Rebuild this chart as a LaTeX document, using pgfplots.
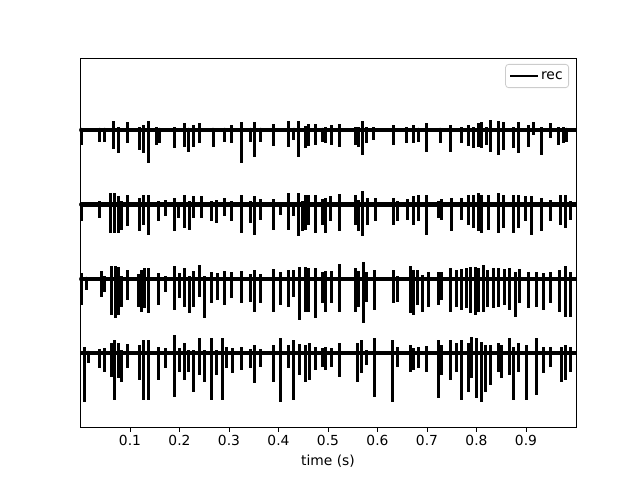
\documentclass[border=0pt]{standalone}
\usepackage{fontspec}
\setmainfont{DejaVu Sans}
\usepackage{pgfplots}
\usepackage{pgfplotstable}
\pgfplotsset{compat=1.18}
% columns: t (s), baseline, up, down
\pgfplotstableread{
t b up down
0.0016 0 2 15
0.0388 0 1 12
0.0489 0 1 12
0.0657 0 9 19
0.0758 0 3 23
0.0945 0 8 13
0.1196 0 3 20
0.1263 0 5 23
0.1364 0 9 33
0.1531 0 3 15
0.1600 0 2 13
0.1903 0 3 18
0.2091 0 7 17
0.2186 0 2 22
0.2273 0 5 17
0.2408 0 7 13
0.2677 0 2 17
0.2913 0 2 12
0.3046 0 5 13
0.3248 0 8 33
0.3438 0 2 12
0.3525 0 8 27
0.3640 0 2 12
0.3895 0 6 16
0.4212 0 9 17
0.4313 0 2 10
0.4414 0 9 27
0.4549 0 4 18
0.4616 0 6 16
0.4752 0 6 15
0.4885 0 2 12
0.4954 0 3 13
0.5067 0 5 15
0.5242 0 6 17
0.5560 0 3 15
0.5626 0 3 17
0.5693 0 9 25
0.5782 0 3 13
0.5929 0 3 10
0.6333 0 5 15
0.6590 0 3 13
0.6723 0 5 13
0.6824 0 2 12
0.6994 0 7 22
0.7263 0 2 13
0.7465 0 5 22
0.7701 0 3 13
0.7834 0 5 16
0.7935 0 3 18
0.8036 0 7 17
0.8105 0 8 18
0.8206 0 3 15
0.8273 0 10 22
0.8440 0 9 25
0.8541 0 8 20
0.8743 0 3 18
0.8844 0 8 23
0.9046 0 5 17
0.9147 0 8 5
0.9317 0 3 25
0.9485 0 7 8
0.9653 0 3 15
0.9754 0 3 13
0.9822 0 2 12
}\chA
\pgfplotstableread{
t b up down
0.0016 -74.5 2 17
0.0388 -74.5 3 14
0.0616 -74.5 11 29
0.0697 -74.5 11 29
0.0758 -74.5 8 29
0.0824 -74.5 3 26
0.0945 -74.5 9 22
0.1196 -74.5 6 27
0.1263 -74.5 9 21
0.1364 -74.5 9 31
0.1566 -74.5 3 17
0.1713 -74.5 4 12
0.1903 -74.5 6 27
0.1970 -74.5 2 14
0.2091 -74.5 9 24
0.2206 -74.5 3 26
0.2273 -74.5 8 14
0.2440 -74.5 8 14
0.2642 -74.5 3 17
0.2743 -74.5 4 19
0.2913 -74.5 6 12
0.3046 -74.5 3 17
0.3248 -74.5 9 29
0.3438 -74.5 3 19
0.3525 -74.5 8 31
0.3640 -74.5 5 16
0.3895 -74.5 5 26
0.4044 -74.5 2 11
0.4212 -74.5 11 26
0.4313 -74.5 2 12
0.4414 -74.5 11 32
0.4481 -74.5 3 27
0.4549 -74.5 9 26
0.4616 -74.5 9 21
0.4752 -74.5 9 29
0.4885 -74.5 5 21
0.4954 -74.5 6 29
0.5055 -74.5 8 17
0.5242 -74.5 10 27
0.5560 -74.5 9 21
0.5626 -74.5 4 27
0.5693 -74.5 13 32
0.5794 -74.5 6 21
0.5964 -74.5 6 17
0.6333 -74.5 6 21
0.6400 -74.5 3 17
0.6602 -74.5 5 16
0.6723 -74.5 8 21
0.6824 -74.5 9 17
0.6994 -74.5 9 31
0.7228 -74.5 3 14
0.7297 -74.5 5 16
0.7499 -74.5 6 27
0.7701 -74.5 6 16
0.7834 -74.5 9 21
0.7935 -74.5 9 24
0.8036 -74.5 11 27
0.8105 -74.5 9 29
0.8238 -74.5 9 26
0.8440 -74.5 11 29
0.8541 -74.5 9 24
0.8743 -74.5 9 29
0.8844 -74.5 9 24
0.8980 -74.5 8 17
0.9115 -74.5 8 31
0.9317 -74.5 6 27
0.9485 -74.5 4 17
0.9687 -74.5 9 21
0.9788 -74.5 9 24
0.9889 -74.5 3 16
}\chB
\pgfplotstableread{
t b up down
0.0016 -149 6 26
0.0117 -149 2 11
0.0420 -149 8 18
0.0489 -149 3 13
0.0622 -149 13 36
0.0703 -149 13 39
0.0758 -149 12 36
0.0824 -149 3 28
0.0945 -149 9 21
0.1162 -149 5 28
0.1228 -149 9 33
0.1297 -149 11 29
0.1378 -149 11 34
0.1566 -149 6 26
0.1713 -149 3 13
0.1903 -149 13 31
0.1990 -149 6 19
0.2091 -149 11 28
0.2206 -149 3 34
0.2273 -149 8 28
0.2408 -149 14 18
0.2495 -149 3 39
0.2642 -149 7 24
0.2764 -149 6 21
0.2913 -149 8 26
0.3046 -149 7 19
0.3248 -149 8 24
0.3438 -149 5 23
0.3525 -149 9 33
0.3640 -149 5 24
0.3895 -149 10 33
0.4044 -149 7 26
0.4212 -149 9 28
0.4313 -149 9 18
0.4434 -149 12 41
0.4549 -149 12 33
0.4616 -149 11 33
0.4752 -149 11 39
0.4885 -149 7 24
0.4954 -149 8 33
0.5067 -149 8 24
0.5242 -149 15 33
0.5560 -149 11 33
0.5626 -149 8 28
0.5707 -149 17 44
0.5782 -149 7 23
0.5949 -149 9 31
0.6333 -149 9 24
0.6414 -149 3 23
0.6671 -149 13 34
0.6723 -149 9 36
0.6804 -149 9 26
0.6913 -149 4 33
0.7026 -149 7 28
0.7228 -149 7 26
0.7297 -149 7 21
0.7465 -149 11 33
0.7600 -149 9 28
0.7701 -149 10 31
0.7802 -149 11 29
0.7869 -149 12 34
0.7970 -149 12 36
0.8036 -149 11 33
0.8137 -149 14 33
0.8218 -149 9 28
0.8339 -149 11 29
0.8440 -149 11 28
0.8556 -149 10 26
0.8657 -149 11 31
0.8778 -149 7 38
0.8865 -149 10 24
0.9046 -149 7 29
0.9216 -149 7 28
0.9350 -149 6 31
0.9485 -149 7 24
0.9673 -149 9 33
0.9788 -149 13 38
0.9889 -149 7 38
}\chC
\pgfplotstableread{
t b up down
0.0085 -223 6 49
0.0152 -223 2 10
0.0388 -223 4 15
0.0489 -223 5 19
0.0622 -223 10 24
0.0691 -223 13 47
0.0758 -223 10 25
0.0824 -223 3 29
0.0945 -223 9 15
0.1196 -223 8 27
0.1277 -223 13 47
0.1378 -223 13 47
0.1566 -223 6 27
0.1713 -223 5 15
0.1903 -223 18 44
0.2004 -223 5 19
0.2091 -223 10 27
0.2172 -223 3 19
0.2273 -223 3 39
0.2408 -223 15 22
0.2495 -223 3 29
0.2642 -223 15 47
0.2743 -223 3 22
0.2859 -223 15 47
0.2945 -223 6 15
0.3061 -223 5 20
0.3248 -223 6 17
0.3438 -223 4 15
0.3525 -223 8 30
0.3640 -223 4 14
0.3895 -223 8 29
0.4044 -223 15 49
0.4212 -223 8 15
0.4313 -223 13 47
0.4434 -223 9 22
0.4549 -223 8 29
0.4630 -223 10 27
0.4752 -223 6 17
0.4885 -223 5 14
0.4954 -223 6 17
0.5067 -223 5 14
0.5242 -223 10 24
0.5592 -223 10 29
0.5673 -223 13 20
0.5782 -223 3 12
0.5949 -223 15 44
0.6313 -223 13 49
0.6400 -223 6 14
0.6671 -223 8 19
0.6723 -223 5 17
0.6824 -223 6 15
0.6994 -223 7 19
0.7228 -223 13 45
0.7297 -223 8 22
0.7465 -223 13 27
0.7600 -223 10 19
0.7701 -223 13 47
0.7834 -223 10 39
0.7903 -223 16 25
0.8004 -223 15 45
0.8105 -223 11 49
0.8172 -223 8 39
0.8273 -223 8 32
0.8440 -223 10 19
0.8509 -223 8 25
0.8663 -223 15 22
0.8743 -223 6 47
0.8844 -223 10 19
0.9014 -223 8 47
0.9216 -223 15 42
0.9350 -223 6 20
0.9485 -223 6 14
0.9721 -223 6 29
0.9788 -223 8 27
0.9889 -223 6 19
}\chD
\pgfplotsset{
  spikes/.style={only marks, mark=none, forget plot,
    error bars/.cd, y dir=both, y explicit, error mark=none,
    error bar style={draw=black, solid, line width=3bp}},
}
\begin{document}
\begin{tikzpicture}[font=\fontsize{13.9}{16.7}\selectfont]
\useasboundingbox (0,0) rectangle (640bp,480bp);
\begin{axis}[
  at={(80bp,53bp)}, anchor=south west,
  scale only axis, width=496bp, height=369bp,
  xmin=-0.001, xmax=1.001, ymin=-297, ymax=72,
  xtick={0.1,0.2,0.3,0.4,0.5,0.6,0.7,0.8,0.9},
  xticklabels={0.1,0.2,0.3,0.4,0.5,0.6,0.7,0.8,0.9},
  ytick=\empty,
  tick align=outside, major tick length=4.9bp,
  every tick/.style={black, line width=0.8bp},
  axis line style={line width=0.8bp},
  xtick pos=bottom,
  /pgf/number format/assume math mode=true,
  xlabel={time (s)},
  xlabel style={yshift=-2bp},
  legend style={at={(1,1)}, anchor=north east, xshift=-7bp, yshift=-6bp,
    draw=black!20, rounded corners=3bp, line width=0.8bp,
    inner xsep=4bp, inner ysep=5bp},
  legend cell align=left,
  legend image code/.code={\draw[black, line width=1.5bp] (0bp,0bp) -- (28bp,0bp);},
]
\addplot[black, line width=4.5bp] coordinates {(0,0) (1,0)};
\addlegendentry{rec}
\addplot[black, line width=4.5bp, forget plot] coordinates {(0,-74.5) (1,-74.5)};
\addplot[black, line width=4.5bp, forget plot] coordinates {(0,-149) (1,-149)};
\addplot[black, line width=4.5bp, forget plot] coordinates {(0,-223) (1,-223)};
\addplot[spikes] table[x=t, y=b, y error plus=up, y error minus=down] {\chA};
\addplot[spikes] table[x=t, y=b, y error plus=up, y error minus=down] {\chB};
\addplot[spikes] table[x=t, y=b, y error plus=up, y error minus=down] {\chC};
\addplot[spikes] table[x=t, y=b, y error plus=up, y error minus=down] {\chD};
\end{axis}
\end{tikzpicture}
\end{document}
